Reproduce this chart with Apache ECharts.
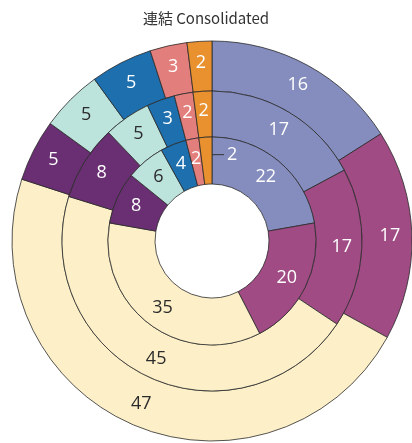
<!DOCTYPE html>
<html>
<head>
<meta charset="utf-8">
<script src="https://cdn.jsdelivr.net/npm/echarts@6/dist/echarts.min.js"></script>
<style>
	html, body { margin: 0; padding: 0; background: #fff; }
	#chart { width: 412px; height: 443px; }
</style>
</head>
<body>
<div id="chart"></div>
<script>
	// segments, clockwise from 12 o'clock
	var categories = ['A', 'B', 'C', 'D', 'E', 'F', 'G', 'H'];
	var innerValues = [22, 20, 35, 8, 6, 4, 2, 2];
	var middleValues = [17, 17, 45, 8, 5, 3, 2, 2];
	var outerValues = [16, 17, 47, 5, 5, 5, 3, 2];

	var colors = ['#848dbe', '#a04b84', '#fdf0c9', '#6a2e73', '#bde3dd', '#1d6fae', '#e27e7b', '#e8912e'];
	var darkText = { 2: true, 4: true };
	var fontFamily = '"Open Sans", "Noto Sans", sans-serif';

	function buildData(values, ring){
		var data = [];
		for(var i = 0; i < values.length; i++){
			var item = {
				name: categories[i],
				value: values[i],
				itemStyle: { color: colors[i] },
				label: { color: darkText[i] ? '#2b2b2b' : '#fff' }
			};
			// inner ring last slice: label pulled out with a short leader
			if(ring == 'inner' && i == values.length - 1){
				item.label = {
					color: '#fff',
					offset: [18, -3],
					formatter: '{l|}{v|{c}}',
					rich: {
						l: { width: 12, height: 1, backgroundColor: '#333' },
						v: { color: '#fff', fontSize: 18, fontFamily: fontFamily, padding: [0, 0, 0, 3] }
					}
				};
			}
			data.push(item);
		}
		return data;
	}

	function ring(values, radius, name){
		return {
			type: 'pie',
			name: name,
			center: [212, 241],
			radius: radius,
			startAngle: 90,
			clockwise: true,
			silent: true,
			animation: false,
			label: {
				show: true,
				position: 'inside',
				formatter: '{c}',
				fontSize: 18,
				fontFamily: fontFamily
			},
			labelLine: { show: false },
			itemStyle: { borderColor: '#2a2a2a', borderWidth: 0.8 },
			data: buildData(values, name)
		};
	}

	var chart = echarts.init(document.getElementById('chart'), null, { renderer: 'canvas' });
	chart.setOption({
		backgroundColor: '#fff',
		title: {
			text: '連結 Consolidated',
			left: 'center',
			top: 6,
			textStyle: {
				fontSize: 15,
				fontWeight: 'normal',
				color: '#333',
				fontFamily: '"Noto Sans CJK JP", "Noto Sans", sans-serif'
			}
		},
		series: [
			ring(outerValues, [150, 200], 'outer'),
			ring(middleValues, [104, 150], 'middle'),
			ring(innerValues, [57, 104], 'inner')
		]
	});
</script>
</body>
</html>
